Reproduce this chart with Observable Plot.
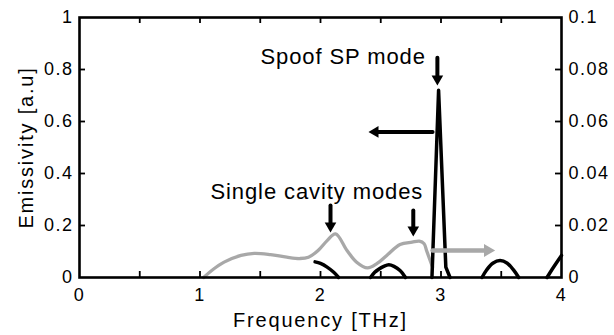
<!DOCTYPE html>
<html><head><meta charset="utf-8">
<script src="https://cdn.jsdelivr.net/npm/d3@7"></script>
<script src="https://cdn.jsdelivr.net/npm/@observablehq/plot@0.6"></script>
<style>
body{margin:0;background:#fff}
#chart{width:614px;height:335px}
#chart svg text{letter-spacing:1.5px}
#chart svg g[font-size="20"] text{letter-spacing:1.8px}
#chart svg g[font-size="22"] text{letter-spacing:0.9px}
</style>
</head><body><div id="chart"></div>
<script>
// ---- tick labels ----
const xTicks = [0, 1, 2, 3, 4];
const xMinorTicks = [0.5, 1, 1.5, 2, 2.5, 3, 3.5];
const leftTicks = [0, 0.2, 0.4, 0.6, 0.8, 1];
const leftTickLabels = ["0", "0.2", "0.4", "0.6", "0.8", "1"];
const rightTickLabels = ["0", "0.02", "0.04", "0.06", "0.08", "0.1"];
const xTitle = "Frequency [THz]";
const yTitle = "Emissivity [a.u]";

// ---- black series (left axis, emissivity) ----
const blackSmoothX   = [1.955, 2.0, 2.055, 2.11, 2.15,   2.415, 2.45, 2.48, 2.525, 2.567, 2.61, 2.66, 2.705,   3.34, 3.38, 3.43, 3.49, 3.55, 3.60, 3.645,   3.88, 3.92, 3.96, 4.0];
const blackSmoothY   = [0.060, 0.054, 0.040, 0.020, 0.0,  0.0, 0.020, 0.031, 0.043, 0.049, 0.043, 0.027, 0.0,    0.0, 0.030, 0.055, 0.065, 0.055, 0.030, 0.0,    0.0, 0.030, 0.058, 0.085];
const blackSmoothSeg = [1, 1, 1, 1, 1,   2, 2, 2, 2, 2, 2, 2, 2,   3, 3, 3, 3, 3, 3, 3,   4, 4, 4, 4];
const peakX = [2.925, 2.98, 3.04, 3.075];
const peakY = [0.0, 0.72, 0.04, 0.0];

// ---- gray series (right axis) ----
const grayX = [1.03, 1.1, 1.2, 1.34, 1.45, 1.585, 1.72, 1.83, 1.90, 1.98, 2.055, 2.125, 2.22, 2.30, 2.39, 2.47, 2.55, 2.66, 2.76, 2.82, 2.86, 2.88, 2.90, 2.93];
const grayV = [0.0, 0.0028, 0.0059, 0.0085, 0.0093, 0.0088, 0.0078, 0.0073, 0.0078, 0.0104, 0.0142, 0.0168, 0.0104, 0.0059, 0.0037, 0.0054, 0.0085, 0.0127, 0.0136, 0.0140, 0.0130, 0.0104, 0.0078, 0.0040];

// ---- annotations ----
const noteText = ["Spoof SP mode", "Single cavity modes"];
const noteX = [1.502, 1.087];
const noteY = [0.849, 0.33];

const downArrowX = [2.97, 2.083, 2.77];
const downArrowY1 = [0.845, 0.277, 0.258];
const downArrowY2 = [0.738, 0.173, 0.158];
const leftArrow = {x1: 2.93, x2: 2.398, y: 0.56};
const rightArrow = {x1: 2.93, x2: 3.45, y: 0.104};

// ---- build tables ----
const blackSmooth = blackSmoothX.map((x, i) => ({x, y: blackSmoothY[i], seg: blackSmoothSeg[i]}));
const peak = peakX.map((x, i) => ({x, y: peakY[i]}));
const gray = grayX.map((x, i) => ({x, v: grayV[i]}));
const notes = noteText.map((t, i) => ({t, x: noteX[i], y: noteY[i]}));
const downArrows = downArrowX.map((x, i) => ({x1: x, x2: x, y1: downArrowY1[i], y2: downArrowY2[i]}));
const leftArrows = [{x1: leftArrow.x1, x2: leftArrow.x2, y1: leftArrow.y, y2: leftArrow.y}];
const rightArrows = [{x1: rightArrow.x1, x2: rightArrow.x2, y1: rightArrow.y, y2: rightArrow.y}];

const GRAY = "#a8a8a8";
const FONT = "'Liberation Sans', Arial, sans-serif";

const chart = Plot.plot({
  width: 614, height: 335,
  marginLeft: 79, marginRight: 53, marginTop: 17, marginBottom: 58,
  x: {domain: [0, 4]},
  y: {domain: [0, 1]},
  style: {fontFamily: FONT, color: "black", background: "white"},
  marks: [
    // inward ticks
    Plot.ruleX(xMinorTicks, {x: d => d, insetTop: 254, stroke: "black", strokeWidth: 1.8}),
    Plot.ruleX(xMinorTicks, {x: d => d, insetBottom: 254, stroke: "black", strokeWidth: 1.8}),
    Plot.ruleY(leftTicks.slice(1, -1), {y: d => d, insetRight: 476, stroke: "black", strokeWidth: 1.8}),
    Plot.ruleY(leftTicks.slice(1, -1), {y: d => d, insetLeft: 476, stroke: "black", strokeWidth: 1.8}),
    // tick labels
    Plot.axisX(xTicks, {tickSize: 0, tickPadding: 11, fontSize: 18, label: null, tickFormat: d => String(d)}),
    Plot.axisY(leftTicks, {anchor: "left", tickSize: 0, tickPadding: 6, fontSize: 18, label: null,
      tickFormat: d => leftTickLabels[leftTicks.indexOf(d)]}),
    Plot.axisY(leftTicks, {anchor: "right", tickSize: 0, tickPadding: 7, fontSize: 18, label: null,
      tickFormat: d => rightTickLabels[leftTicks.indexOf(d)]}),
    // titles
    Plot.text([xTitle], {text: d => d, frameAnchor: "bottom", textAnchor: "middle", lineAnchor: "middle", dy: 43.3, fontSize: 20}),
    Plot.text([yTitle], {text: d => d, frameAnchor: "left", textAnchor: "middle", lineAnchor: "middle", rotate: -90, dx: -52.9, fontSize: 20}),
    // data
    Plot.line(gray, {x: "x", y: d => d.v * 10, stroke: GRAY, strokeWidth: 3.3, curve: "catmull-rom"}),
    Plot.line(blackSmooth, {x: "x", y: "y", z: "seg", stroke: "black", strokeWidth: 3.5, curve: "catmull-rom"}),
    Plot.line(peak, {x: "x", y: "y", stroke: "black", strokeWidth: 3.5, strokeLinejoin: "round"}),
    // annotations
    Plot.text(notes, {x: "x", y: "y", text: "t", textAnchor: "start", lineAnchor: "middle", fontSize: 22}),
    Plot.arrow(downArrows, {x1: "x1", y1: "y1", x2: "x2", y2: "y2", stroke: "black", strokeWidth: 4, headLength: 0, insetEnd: 7}),
    Plot.dot(downArrows, {x: "x2", y: "y2", symbol: "triangle", r: 4.3, fill: "black", strokeWidth: 0, rotate: 180, dy: -6.7}),
    Plot.arrow(leftArrows, {x1: "x1", y1: "y1", x2: "x2", y2: "y2", stroke: "black", strokeWidth: 4, headLength: 0, insetEnd: 7}),
    Plot.dot(leftArrows, {x: "x2", y: "y2", symbol: "triangle", r: 4.3, fill: "black", strokeWidth: 0, rotate: -90, dx: 6.7}),
    Plot.arrow(rightArrows, {x1: "x1", y1: "y1", x2: "x2", y2: "y2", stroke: GRAY, strokeWidth: 4.5, headLength: 0, insetEnd: 8}),
    Plot.dot(rightArrows, {x: "x2", y: "y2", symbol: "triangle", r: 4.8, fill: GRAY, strokeWidth: 0, rotate: 90, dx: -7.5}),
    Plot.frame({stroke: "black", strokeWidth: 2.6})
  ]
});
document.getElementById("chart").appendChild(chart);
</script>
</body></html>
